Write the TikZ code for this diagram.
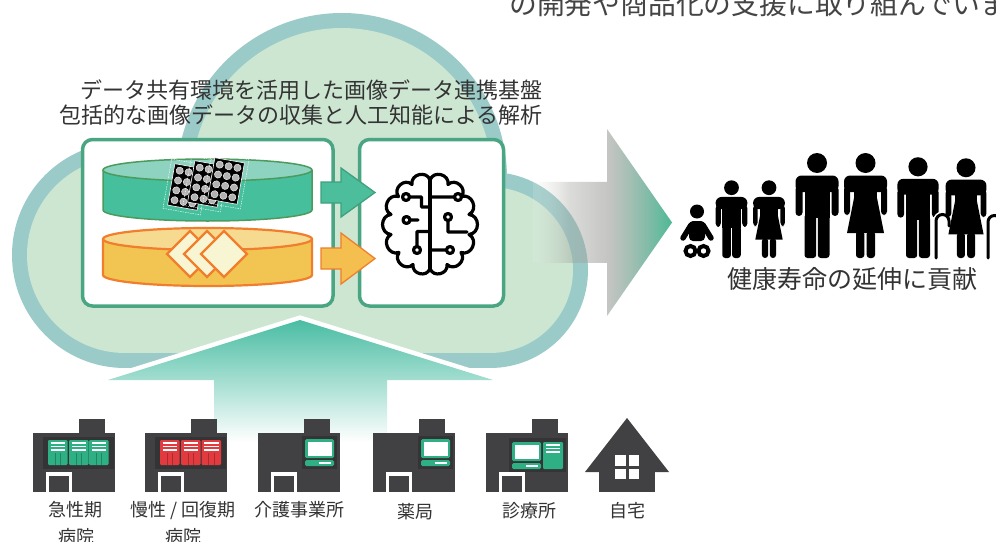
\documentclass[tikz,border=0pt]{standalone}
\usepackage{fontspec}
\setmainfont{Noto Sans CJK JP}
\usetikzlibrary{fadings}

\definecolor{cloudband}{HTML}{9BCBC8}
\definecolor{cloudfill}{HTML}{CCE6D1}
\definecolor{boxgreen}{HTML}{4AA582}
\definecolor{dbgreen}{HTML}{46BF9C}
\definecolor{dbgreentop}{HTML}{8ED3BF}
\definecolor{dbgreenline}{HTML}{4C9A5E}
\definecolor{dbyellow}{HTML}{F2C552}
\definecolor{dbyellowtop}{HTML}{F5DA90}
\definecolor{dborange}{HTML}{F07E2C}
\definecolor{cream}{HTML}{F8F6D2}
\definecolor{txt}{HTML}{333333}
\definecolor{leadtxt}{HTML}{444444}
\definecolor{bldg}{HTML}{414042}
\definecolor{panel}{HTML}{343335}
\definecolor{mint}{HTML}{2FB084}
\definecolor{redcard}{HTML}{E23B3F}
\definecolor{uparrowtop}{HTML}{4ABDA3}
\definecolor{uparrowmid}{HTML}{7ACDBE}
\definecolor{arrgray}{HTML}{A0A19D}
\definecolor{arrgreen}{HTML}{4CBA96}
\definecolor{arrwhite}{HTML}{F4F4F2}
\definecolor{flowgreen}{HTML}{4CBE9C}
\definecolor{flowgreenline}{HTML}{3FA07F}
\definecolor{floworange}{HTML}{F4BF4E}

\pgfdeclarehorizontalshading{bigarrowshade}{100bp}{color(0bp)=(arrwhite); color(25bp)=(arrwhite); color(38bp)=(arrgray); color(52bp)=(arrgray); color(75bp)=(arrgreen); color(100bp)=(arrgreen)}
\tikzfading[name=arrowfade, left color=transparent!85, middle color=transparent!10, right color=transparent!0]

% one brain-slice film sheet
\newcommand{\mricard}[2]{%
  \begin{scope}[shift={(#1,#2)}, rotate=-10]
    \draw[white, line width=.4, dash pattern=on 1.5pt off 1pt] (-19,-25) rectangle (19,25);
    \fill[black] (-15,-21) rectangle (15,21);
    \draw[white, line width=.6] (-15,-21) rectangle (15,21);
    \foreach \cx in {-9,0,9}
      \foreach \cy in {-15,-5,5,15}
        {\filldraw[fill=gray!60, draw=gray!15, line width=.5] (\cx,\cy) circle (3.6);}
  \end{scope}}

% file card with header lines
\newcommand{\bindercard}[3]{%
  \fill[#3, rounded corners=1.2] (#1,#2) rectangle ++(19.5,25);
  \foreach \ly in {3,6.5,10}
    {\draw[white, line width=1.1] (#1+2.5,#2+\ly) -- (#1+17,#2+\ly);}
  \draw[#3!75!black, line width=.5] (#1+7,#2+13) -- (#1+7,#2+25);
  \draw[#3!75!black, line width=.5] (#1+12.5,#2+13) -- (#1+12.5,#2+25);}

% computer screen with keyboard
\newcommand{\screenset}[2]{%
  \fill[mint, rounded corners=1.5] (#1,#2) rectangle ++(29,19);
  \fill[white] (#1+2.5,#2+2.5) rectangle ++(24,14);
  \fill[mint, rounded corners=1.5] (#1,#2+21) rectangle ++(29,6);
  \draw[white, line width=1.2] (#1+14,#2+24) -- (#1+26,#2+24);}

% facility shell: block, tower and door
\newcommand{\bldgshell}[1]{%
  \begin{scope}[shift={(#1,0)}]
    \fill[bldg] (0,433) rectangle (82,492);
    \fill[bldg] (46,419) rectangle (72,433);
    \fill[white] (13,472) rectangle (39,492);
    \fill[bldg] (16,476) rectangle (36,492);
  \end{scope}}

% pictograms, feet at the origin
\newcommand{\manfig}{%
  \fill (0,-95) circle (10);
  \fill[rounded corners=6] (-21.5,-82.5) rectangle (21.5,-66);
  \fill[rounded corners=3.5] (-21.5,-72) rectangle (-14.5,-42);
  \fill[rounded corners=3.5] (14.5,-72) rectangle (21.5,-42);
  \fill (-12.5,-76) rectangle (12.5,-40);
  \fill[rounded corners=3] (-12.5,-44) rectangle (-0.8,0);
  \fill[rounded corners=3] (0.8,-44) rectangle (12.5,0);}
\newcommand{\womanfig}{%
  \fill (0,-95) circle (10);
  \fill[rounded corners=6] (-21.5,-82.5) rectangle (21.5,-66);
  \fill[rounded corners=3.5] (-21.5,-72) rectangle (-15.5,-43);
  \fill[rounded corners=3.5] (15.5,-72) rectangle (21.5,-43);
  \fill (-11.5,-76) rectangle (11.5,-58);
  \fill (-11.5,-60) -- (11.5,-60) -- (18.5,-25) -- (-18.5,-25) -- cycle;
  \fill[rounded corners=3] (-9.5,-27) rectangle (-1.2,0);
  \fill[rounded corners=3] (1.2,-27) rectangle (9.5,0);}

\tikzset{
  boxframe/.style={draw=boxgreen, line width=3.5pt, rounded corners=10pt, fill=white, inner sep=0pt},
  brainline/.style={line width=3.2pt, line cap=round, line join=round},
  lobe/.style={bend right=85, looseness=1.45},
  lobeR/.style={bend left=85, looseness=1.45},
  title/.style={text=txt, inner sep=0pt, anchor=base east, font=\fontsize{22}{22}\selectfont},
  lbl/.style={text=txt, inner sep=0pt, anchor=base, font=\fontsize{18}{18}\selectfont},
  flowarrow/.style={line width=1.3pt, line join=miter},
  cane/.style={line width=3pt, line cap=round}
}

\begin{document}
\begin{tikzpicture}[x=1pt, y=-1pt]
\useasboundingbox (0,0) rectangle (996,541);
\fill[white] (0,0) rectangle (996,541);
\clip (0,0) rectangle (996,541);

% running text cut by the top edge
\node[anchor=base west, inner sep=0pt, text=leadtxt, font=\fontsize{27.8}{28}\selectfont] (lead) at (509,14.5) {の開発や商品化の支援に取り組んでいま};

% cloud: outer band, then inner fill
\fill[cloudband] (125,255) circle (113);
\fill[cloudband] (342,178) circle (165);
\fill[cloudband] (490,270) circle (98);
\fill[cloudband] (125,200) rectangle (490,368);
\fill[cloudfill] (125,255) circle (98);
\fill[cloudfill] (342,178) circle (150);
\fill[cloudfill] (490,270) circle (83);
\fill[cloudfill] (125,200) rectangle (490,353);

% upward arrow from the facilities into the cloud
\coordinate (uptip) at (300,320);
\draw[white, line width=9pt, line join=miter] (108,380) -- (uptip) -- (493,380);
\shade[top color=uparrowtop, middle color=uparrowmid, bottom color=white]
  (uptip) -- (493,380) -- (387,380) -- (387,442) -- (214,442) -- (214,380) -- (108,380) -- cycle;

% headings
\node[title] (title1) at (543,98.5) {データ共有環境を活用した画像データ連携基盤};
\node[title] (title2) at (543,123.5) {包括的な画像データの収集と人工知能による解析};

% storage panel and analysis panel
\node[boxframe, minimum width=250.5pt, minimum height=166.5pt] (store) at (207.75,222.75) {};
\node[boxframe, minimum width=144pt, minimum height=166.5pt] (brainbox) at (431.5,222.75) {};

% image database
\fill[dbgreen] (207.5,210) ellipse [x radius=104.5, y radius=11];
\fill[dbgreen] (103,170) rectangle (312,210);
\draw[dbgreenline, line width=1.5pt] (103,170) -- (103,210) arc[start angle=180, end angle=0, x radius=104.5, y radius=11] -- (312,170);
\filldraw[fill=dbgreentop, draw=dbgreenline, line width=1.5pt] (207.5,170) ellipse [x radius=104.5, y radius=11];
\mricard{186}{187}
\mricard{206}{184}
\mricard{226}{181}

% document database
\fill[dbyellow] (207.5,275) ellipse [x radius=104.5, y radius=11];
\fill[dbyellow] (103,239) rectangle (312,275);
\draw[dborange, line width=2.2pt] (103,239) -- (103,275) arc[start angle=180, end angle=0, x radius=104.5, y radius=11] -- (312,239);
\filldraw[fill=dbyellowtop, draw=dborange, line width=2.2pt] (207.5,239) ellipse [x radius=104.5, y radius=11];
\foreach \dx in {190,207,224}
  {\filldraw[fill=cream, draw=dborange, line width=2.2pt, line join=miter] (\dx-23,254) -- (\dx,231) -- (\dx+23,254) -- (\dx,277) -- cycle;}

% flows into the analysis panel
\filldraw[fill=flowgreen, draw=flowgreenline, flowarrow] (321,182) -- (341,182) -- (341,168) -- (375,192.5) -- (341,217) -- (341,203) -- (321,203) -- cycle;
\filldraw[fill=floworange, draw=dborange, flowarrow] (321,248) -- (341,248) -- (341,233) -- (375,258.5) -- (341,284) -- (341,269) -- (321,269) -- cycle;

% brain with circuit traces
\draw[brainline] (430,180) to[lobe] (412,184.5) to[lobe] (398.5,196.5)
  to[lobe] (391,214.5) to[lobe] (391,234.5)
  to[lobe] (399,252.5) to[lobe] (413,264.5) to[lobe] (430,268.5);
\draw[brainline] (430,180) to[lobeR] (448,184.5) to[lobeR] (461.5,196.5)
  to[lobeR] (469,214.5) to[lobeR] (469,234.5)
  to[lobeR] (461,252.5) to[lobeR] (447,264.5) to[lobeR] (430,268.5);
\draw[brainline] (430,180) -- (430,268.5);
\draw[brainline] (406,197) circle (3.5) (409.5,197) -- (421.5,197) -- (421.5,207) -- (430,207);
\draw[brainline] (406.5,220) circle (3.5) (410,220) -- (418,220);
\draw[brainline] (417,250) circle (3.5) (417,246.5) -- (417,231.5) -- (430,231.5);
\draw[brainline] (458,197) circle (3.5) (454.5,197) -- (430,197);
\draw[brainline] (448,217) circle (3.5) (448,220.5) -- (448,232) -- (467,232);
\draw[brainline] (450,250) circle (3.5) (446.5,250) -- (430,250);

% outcome arrow
\shade[shading=bigarrowshade, path fading=arrowfade] (533,182) -- (607,182) -- (607,129) -- (672,222.5) -- (607,316) -- (607,263) -- (533,263) -- cycle;

% people of all ages
\begin{scope}[shift={(697,258)}]
  \fill (0,-46.5) circle (7);
  \fill[rounded corners=4] (-8,-37) rectangle (8,-17);
  \draw[line width=5.5pt, line cap=round] (-6,-33) -- (-14,-20);
  \draw[line width=5.5pt, line cap=round] (6,-33) -- (14,-20);
  \draw[line width=4pt] (-6.5,-7) circle (5);
  \draw[line width=4pt] (6.5,-7) circle (5);
\end{scope}
\begin{scope}[shift={(731.5,258)}, scale=0.74] \manfig \end{scope}
\begin{scope}[shift={(769,258)}, scale=0.74] \womanfig \end{scope}
\begin{scope}[shift={(817,258)}] \manfig \end{scope}
\begin{scope}[shift={(865.5,258)}] \womanfig \end{scope}
\begin{scope}[shift={(918,258)}, scale=0.96] \manfig \end{scope}
\draw[cane, white, line width=6pt] (936,258) -- (936,221) arc[start angle=180, end angle=360, radius=6.5] -- (949,226);
\draw[cane] (936,258) -- (936,221) arc[start angle=180, end angle=360, radius=6.5] -- (949,226);
\begin{scope}[shift={(966,258)}, scale=0.95] \womanfig \end{scope}
\draw[cane, white, line width=6pt] (988,258) -- (988,222) arc[start angle=180, end angle=360, radius=6.5] -- (1001,227);
\draw[cane] (988,258) -- (988,222) arc[start angle=180, end angle=360, radius=6.5] -- (1001,227);
\node[text=txt, inner sep=0pt, anchor=base, font=\fontsize{25}{25}\selectfont] (goal) at (852.5,288) {健康寿命の延伸に貢献};

% facilities
\bldgshell{33}
\fill[panel] (43,437) rectangle (114,469);
\bindercard{48}{440}{mint}
\bindercard{69}{440}{mint}
\bindercard{89}{440}{mint}

\bldgshell{145}
\fill[panel] (155,437) rectangle (226,469);
\bindercard{160}{440}{redcard}
\bindercard{181}{440}{redcard}
\bindercard{201.5}{440}{redcard}

\bldgshell{258}
\fill[panel] (302,436) rectangle (337,469);
\screenset{305}{439}

\bldgshell{373}
\fill[panel] (418,436) rectangle (453,469);
\screenset{421}{439}

\bldgshell{486}
\fill[panel] (509,438) rectangle (566,472);
\screenset{512}{442}
\fill[mint, rounded corners=1.2] (543,442) rectangle (563,469);
\foreach \ly in {445,448.5,452}
  {\draw[white, line width=1.1] (546,\ly) -- (560,\ly);}

% home
\fill[bldg] (585,472) -- (627,418) -- (669,472) -- cycle;
\fill[bldg] (599,472) rectangle (655,492);
\fill[white] (615,455) rectangle (625.5,465.5);
\fill[white] (628.5,455) rectangle (639,465.5);
\fill[white] (615,468.5) rectangle (625.5,479);
\fill[white] (628.5,468.5) rectangle (639,479);

% facility names
\node[lbl] (acute1) at (75,516) {急性期};
\node[lbl] (acute2) at (76.5,543) {病院};
\node[lbl] (chronic1) at (183,516) {慢性 / 回復期};
\node[lbl] (chronic2) at (183,543) {病院};
\node[lbl] (care) at (299,516) {介護事業所};
\node[lbl] (pharm) at (415,518) {薬局};
\node[lbl] (clinic) at (529.5,517) {診療所};
\node[lbl] (home) at (627,517) {自宅};
\end{tikzpicture}
\end{document}
